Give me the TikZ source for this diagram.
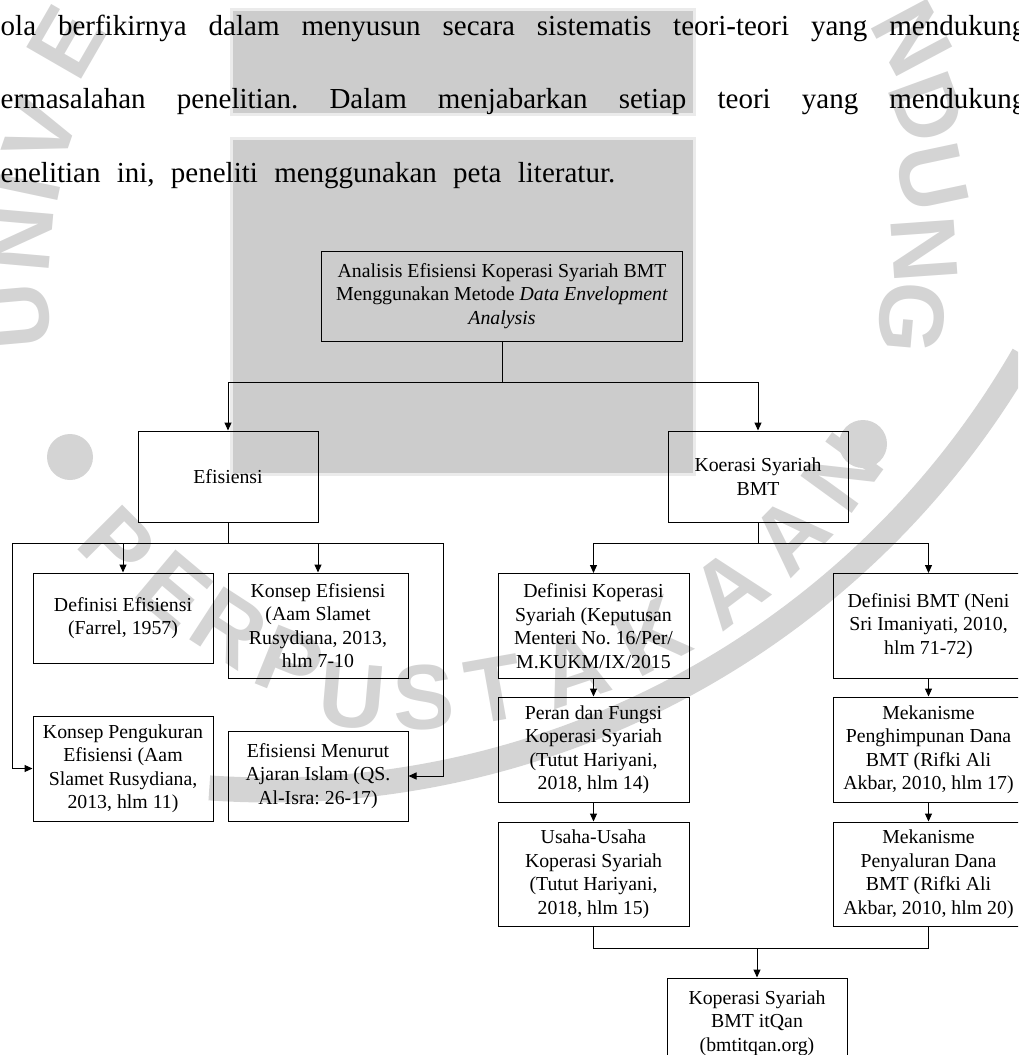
\documentclass[tikz,border=0pt]{standalone}
\usepackage{fontspec}
\setmainfont{Liberation Serif}
\newfontfamily\wmfont{Liberation Sans}
\usetikzlibrary{arrows.meta,calc}
\definecolor{blockgray}{HTML}{CCCCCC}
\definecolor{blockedge}{HTML}{EBEBEB}
\definecolor{wmgray}{HTML}{D4D4D4}
\frenchspacing
\begin{document}
\begin{tikzpicture}[x=1pt,y=-1pt]
    \tikzstyle{every node}+=[inner sep=0pt]
    \tikzstyle{box}=[draw=black, line width=1pt, align=center, font={\fontsize{19.8}{23.5}\selectfont}, minimum width=180pt, minimum height=90pt]
    \tikzstyle{wide}=[box, minimum width=191pt]
    \tikzstyle{link}=[black, line width=1pt]
    \tikzstyle{arr}=[link, -{Triangle[length=8pt,width=7pt]}]
    \tikzstyle{para}=[anchor=base west, font={\fontsize{29}{30}\selectfont}]
    \tikzstyle{wmletter}=[text=wmgray, font={\wmfont\bfseries\fontsize{92}{92}\selectfont}]
    \useasboundingbox (0,0) rectangle (1018,1055);
    \clip (0,0) rectangle (1018,1055);
    % watermark: dots, swoosh and lettering
    \fill [wmgray] (70,457) circle (23);
    \fill [wmgray] (863,444) circle (24);
    \draw [wmgray, line width=25pt] (270,-80) ++(30:870) arc (30:94:870);
    \foreach \ch/\px/\py/\rot [count=\i] in {U/18/316/95, N/20/239/85, I/28/187/78, V/41/132/71, E/66/42/60,
                                            N/912/38/-62, D/928/108/-70, U/932/178/-78, N/924/249/-86, G/912/318/-95}
        \node [wmletter, rotate=\rot] (ring\i) at (\px,\py) {\ch};
    \foreach \ch/\px/\py/\rot [count=\i] in {P/118/545/-45, E/174/590/-40, R/230/628/-33, P/290/664/-22}
        \node [wmletter, rotate=\rot] (perpus\i) at (\px,\py) {\ch};
    \foreach \ch/\ang [count=\i] in {U/95, S/87.5, T/80, A/71.5, K/62.5, A/53, A/44.5, N/36}
        \node [wmletter, rotate=90-\ang] (takaan\i) at ($(400,151)+(\ang:547)$) {\ch};
    % grey blocks behind the text
    \fill [blockedge] (230,8) rectangle (696,116);
    \fill [blockgray] (233,11) rectangle (693,113);
    \fill [blockedge] (230,137) rectangle (696,476);
    \fill [blockgray] (233,140) rectangle (693,473);
    % paragraph
    \node [para] (l1) at (-14,35) {\makebox[1040pt][s]{pola berfikirnya dalam menyusun secara sistematis teori-teori yang mendukung}};
    \node [para] (l2) at (-14,108) {\makebox[1040pt][s]{permasalahan penelitian. Dalam menjabarkan setiap teori yang mendukung}};
    \node [para] (l3) at (-14,182) {\makebox[629pt][s]{penelitian ini, peneliti menggunakan peta literatur.}};
    % boxes
    \node [box, minimum width=361pt] (judul) at (502,296) {Analisis Efisiensi Koperasi Syariah BMT\\Menggunakan Metode \textit{Data Envelopment}\\\textit{Analysis}};
    \node [box, minimum height=91pt] (efis) at (228,476.5) {Efisiensi};
    \node [box, minimum height=91pt] (bmt) at (758,476.5) {Koerasi Syariah\\BMT};
    \node [box] (defef) at (123,618) {Definisi Efisiensi\\(Farrel, 1957)};
    \node [box, minimum height=105pt] (konsef) at (318,625.5) {Konsep Efisiensi\\(Aam Slamet\\Rusydiana, 2013,\\hlm 7-10};
    \node [box, minimum height=105pt] (ukur) at (123,768.5) {Konsep Pengukuran\\Efisiensi (Aam\\Slamet Rusydiana,\\2013, hlm 11)};
    \node [box] (islam) at (318,776) {Efisiensi Menurut\\Ajaran Islam (QS.\\Al-Isra: 26-17)};
    \node [wide, minimum height=105pt] (defkop) at (593.5,626) {Definisi Koperasi\\Syariah (Keputusan\\Menteri No. 16/Per/\\M.KUKM/IX/2015};
    \node [wide, minimum height=105pt] (defbmt) at (928.5,626) {Definisi BMT (Neni\\Sri Imaniyati, 2010,\\hlm 71-72)};
    \node [wide, minimum height=105pt] (peran) at (593.5,749.5) {Peran dan Fungsi\\Koperasi Syariah\\(Tutut Hariyani,\\2018, hlm 14)};
    \node [wide, minimum height=105pt] (himpun) at (928.5,749.5) {Mekanisme\\Penghimpunan Dana\\BMT (Rifki Ali\\Akbar, 2010, hlm 17)};
    \node [wide, minimum height=104pt] (usaha) at (593.5,874) {Usaha-Usaha\\Koperasi Syariah\\(Tutut Hariyani,\\2018, hlm 15)};
    \node [wide, minimum height=104pt] (salur) at (928.5,874) {Mekanisme\\Penyaluran Dana\\BMT (Rifki Ali\\Akbar, 2010, hlm 20)};
    \node [box] (itqan) at (757,1023) {Koperasi Syariah\\BMT itQan\\(bmtitqan.org)};
    % bus points
    \coordinate (bus1) at (502,382);
    \coordinate (bus2) at (228,543);
    \coordinate (eL) at (12,543);
    \coordinate (eR) at (443,543);
    \coordinate (bus3) at (758,543);
    \coordinate (bus4) at (757,948);
    % connectors
    \draw [link] (judul.south) -- (bus1);
    \draw [arr] (bus1) -| (efis.north);
    \draw [arr] (bus1) -| (bmt.north);
    \draw [link] (efis.south) -- (bus2);
    \draw [link] (eL) -- (eR);
    \draw [arr] (defef.north |- eL) -- (defef.north);
    \draw [arr] (konsef.north |- eL) -- (konsef.north);
    \draw [arr] (eL) |- (ukur.west);
    \draw [arr] (eR) |- (islam.east);
    \draw [link] (bmt.south) -- (bus3);
    \draw [arr] (bus3) -| (defkop.north);
    \draw [arr] (bus3) -| (defbmt.north);
    \draw [arr] (defkop) -- (peran);
    \draw [arr] (peran) -- (usaha);
    \draw [arr] (defbmt) -- (himpun);
    \draw [arr] (himpun) -- (salur);
    \draw [link] (usaha.south) |- (bus4) -| (salur.south);
    \draw [arr] (bus4) -- (itqan.north);
\end{tikzpicture}
\end{document}
